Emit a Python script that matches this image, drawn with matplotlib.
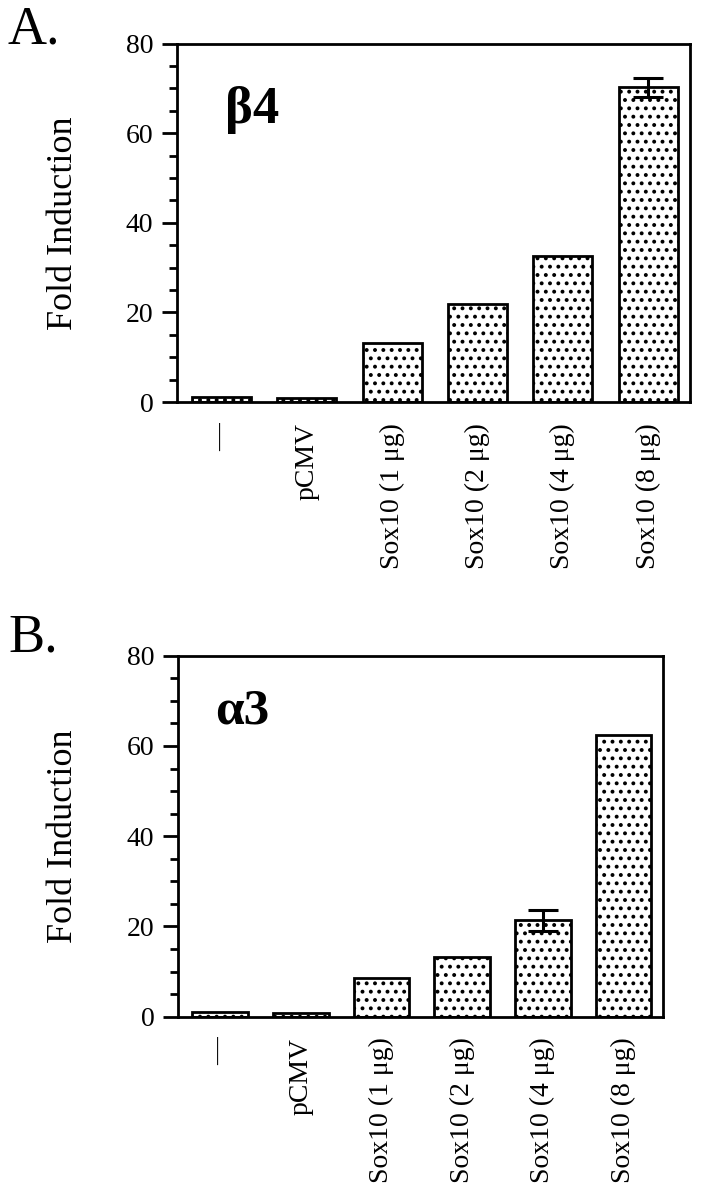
import matplotlib
matplotlib.use('Agg')
import matplotlib.pyplot as plt
import numpy as np

plt.rcParams['font.family'] = ['Liberation Serif', 'DejaVu Serif']
plt.rcParams['hatch.linewidth'] = 1.6

labels = ['—', 'pCMV', 'Sox10 (1 μg)', 'Sox10 (2 μg)', 'Sox10 (4 μg)', 'Sox10 (8 μg)']

beta4 = [1.1, 1.0, 13.2, 21.9, 32.6, 70.2]
beta4_err = [0, 0, 0, 0, 0, 2.1]

alpha3 = [1.0, 0.9, 8.5, 13.3, 21.4, 62.5]
alpha3_err = [0, 0, 0, 0, 2.3, 0]

W, H = 703, 1199
fig = plt.figure(figsize=(W / 100, H / 100), dpi=100)

# axes boxes in pixels: left, top, right, bottom
boxA = (177, 43.5, 690, 402)
boxB = (178, 655.7, 663, 1016.7)


def make_axes(box):
    l, t, r, b = box
    return fig.add_axes([l / W, 1 - b / H, (r - l) / W, (b - t) / H])


def panel(ax, vals, errs, gene, gx, gy, gsize, box):
    x = np.arange(len(vals))
    ax.bar(x, vals, width=0.69, color='white', edgecolor='black',
           linewidth=2.0, hatch='..', zorder=2)
    e = np.array(errs, dtype=float)
    m = e > 0
    ax.errorbar(x[m], np.array(vals)[m], yerr=e[m], fmt='none', ecolor='black',
                elinewidth=2.2, capsize=11, capthick=2.2, zorder=3)
    ax.set_xlim(-0.52, len(vals) - 0.51)
    ax.set_ylim(0, 80)
    ax.set_yticks([0, 20, 40, 60, 80])
    ax.set_yticks(np.arange(0, 81, 5), minor=True)
    ax.tick_params(axis='y', which='major', direction='out', length=11, width=2,
                   labelsize=20, pad=6)
    ax.tick_params(axis='y', which='minor', direction='out', length=6, width=2)
    ax.set_xticks(x)
    ax.set_xticklabels(labels, rotation=90, fontsize=20, va='top', ha='center')
    ax.tick_params(axis='x', length=0, pad=15)
    for s in ax.spines.values():
        s.set_linewidth(2)
    ax.set_ylabel('Fold Induction', fontsize=26)
    l, t, r, b = box
    ax.yaxis.set_label_coords((80 - l) / (r - l), 0.5)
    ax.text(gx, gy, gene, transform=ax.transAxes, fontsize=gsize,
            fontweight='bold', va='baseline', ha='left')


axA = make_axes(boxA)
panel(axA, beta4, beta4_err, 'β4', 0.094, 0.778, 38, boxA)

axB = make_axes(boxB)
panel(axB, alpha3, alpha3_err, 'α3', 0.076, 0.813, 37, boxB)

fig.text(8 / W, 1 - 43 / H, 'A.', fontsize=39, va='baseline', ha='left')
fig.text(8 / W, 1 - 651 / H, 'B.', fontsize=39, va='baseline', ha='left')

fig.savefig('out.png', dpi=100)
